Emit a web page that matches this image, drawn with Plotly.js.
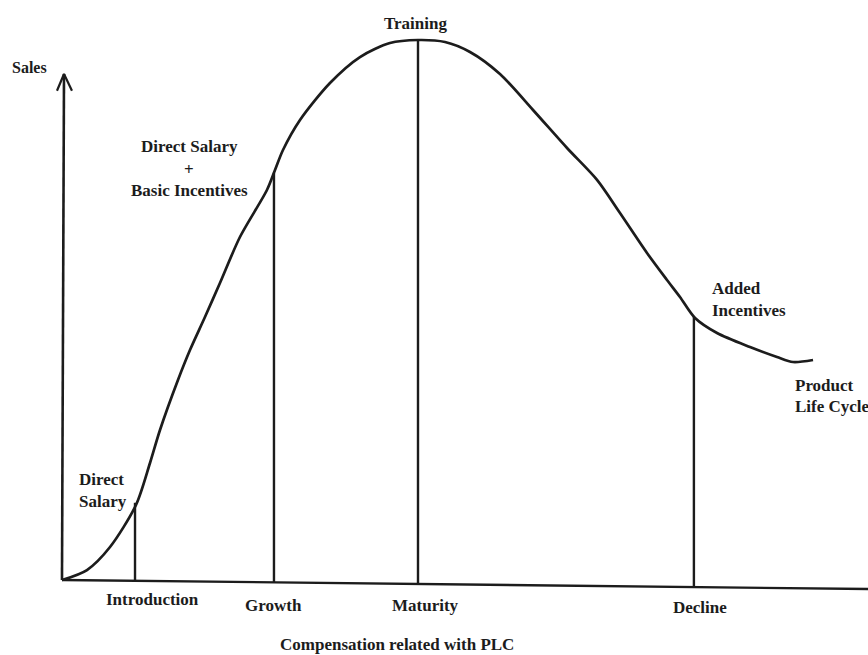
<!DOCTYPE html>
<html>
<head>
<meta charset="utf-8">
<script src="https://cdn.plot.ly/plotly-3.0.1.min.js"></script>
<style>html,body{margin:0;padding:0;background:#fff;}#chart{width:868px;height:655px;}</style>
</head>
<body>
<div id="chart"></div>
<script>
// Product life cycle curve (time vs sales, arbitrary units)
const curveX = [0, 3.1, 5.96, 9.18, 10.92, 12.16, 14.39, 15.88, 17.74, 19.60, 22.08, 25.43, 26.43, 27.42, 29.53, 33.25, 36.97, 40.69, 44.17, 47.52, 50.62, 54.34, 58.44, 62.66, 66.38, 69.23, 72.58, 75.06, 76.67, 78.54, 81.27, 85.36, 88.71, 90.69, 93.18];
const curveY = [0, 1.85, 6.11, 13.89, 21.67, 27.78, 37.04, 42.59, 48.70, 55.0, 63.52, 72.22, 75.93, 79.63, 85.19, 92.04, 96.85, 99.44, 100, 99.63, 97.78, 93.70, 87.04, 80.0, 74.1, 67.96, 60.56, 55.56, 52.41, 48.52, 45.74, 43.15, 41.30, 40.37, 40.74];

// Stages
const stageNames = ["Introduction", "Growth", "Maturity", "Decline"];
const stageX = [9.06, 26.3, 44.17, 78.4];
const stageTop = [14.3, 75.4, 100, 48.7];
const stageBottom = [-0.15, -0.44, -0.74, -1.31];
const stageLabelX = [11.17, 26.3, 45.16, 79.16];
const stageLabelY = [-3.7, -4.63, -4.63, -5.0];

// Axis (hand-drawn, slightly sloping baseline)
const xAxisX = [0, 100];
const xAxisY = [0, -1.67];
const yAxisX = [0, 0.25];
const yAxisY = [0, 93.7];
const arrowX = [-0.62, 0.25, 1.24];
const arrowY = [90.6, 93.7, 90.6];

// Compensation labels
const compTexts = ["Direct", "Salary", "Direct Salary", "+", "Basic Incentives", "Training", "Added", "Incentives", "Product", "Life Cycle"];
const compX = [1.92, 1.92, 15.76, 15.76, 15.76, 43.8, 80.4, 80.4, 90.7, 90.7];
const compY = [18.52, 14.63, 80.19, 75.93, 72.04, 103.0, 54.07, 50.0, 35.93, 32.22];
const compAnchor = ["left", "left", "center", "center", "center", "center", "left", "left", "left", "left"];

const axisTitleY = "Sales";
const axisTitleYPos = [-3.97, 95.0];
const axisTitleX = "Compensation related with PLC";
const axisTitleXPos = [41.56, -11.9];

const ink = "#1c1c1c";
const serif = "Liberation Serif, Times New Roman, serif";

// vertical stage lines
const vx = [], vy = [];
stageX.forEach((x, i) => { vx.push(x, x, null); vy.push(stageBottom[i], stageTop[i], null); });

const traces = [
  {x: yAxisX, y: yAxisY, mode: "lines", line: {color: ink, width: 2.6}, hoverinfo: "skip"},
  {x: arrowX, y: arrowY, mode: "lines", line: {color: ink, width: 2.2}, hoverinfo: "skip"},
  {x: xAxisX, y: xAxisY, mode: "lines", line: {color: ink, width: 2.4}, hoverinfo: "skip"},
  {x: vx, y: vy, mode: "lines", line: {color: ink, width: 2.4}, hoverinfo: "skip"},
  {x: curveX, y: curveY, mode: "lines", line: {color: ink, width: 2.7, shape: "spline", smoothing: 0.8}, hoverinfo: "skip"}
];

const fs = 17;
const annotations = [];
stageNames.forEach((n, i) => annotations.push({x: stageLabelX[i], y: stageLabelY[i], text: "<b>" + n + "</b>", showarrow: false, xanchor: "center", yanchor: "middle", font: {family: serif, size: fs, color: ink}}));
compTexts.forEach((t, i) => annotations.push({x: compX[i], y: compY[i], text: "<b>" + t + "</b>", showarrow: false, xanchor: compAnchor[i], yanchor: "middle", font: {family: serif, size: fs, color: ink}}));
annotations.push({x: axisTitleYPos[0], y: axisTitleYPos[1], text: "<b>" + axisTitleY + "</b>", showarrow: false, xanchor: "center", yanchor: "middle", font: {family: serif, size: 16, color: ink}});
annotations.push({x: axisTitleXPos[0], y: axisTitleXPos[1], text: "<b>" + axisTitleX + "</b>", showarrow: false, xanchor: "center", yanchor: "middle", borderpad: 0, font: {family: serif, size: fs, color: ink}});

const layout = {
  width: 868, height: 655,
  margin: {l: 0, r: 0, t: 0, b: 0, pad: 0},
  paper_bgcolor: "#ffffff", plot_bgcolor: "#ffffff",
  showlegend: false,
  xaxis: {range: [-7.69, 100], visible: false, fixedrange: true},
  yaxis: {range: [-13.89, 107.41], visible: false, fixedrange: true},
  annotations: annotations
};

Plotly.newPlot("chart", traces, layout, {displayModeBar: false, staticPlot: true});
</script>
</body>
</html>
